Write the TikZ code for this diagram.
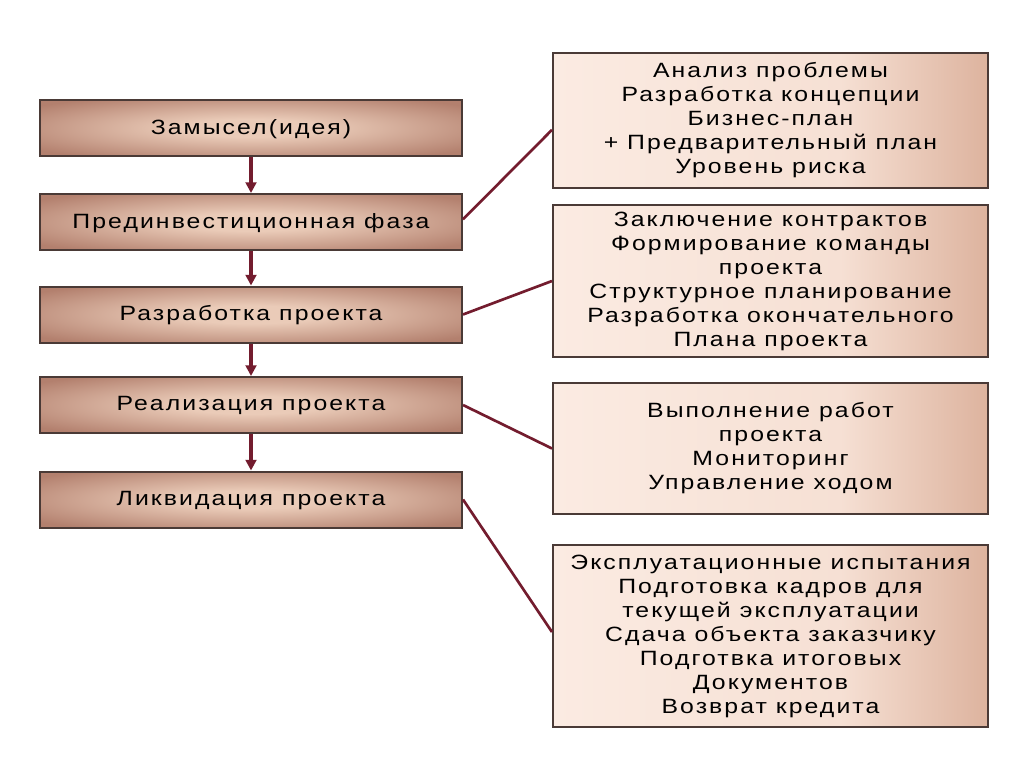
\documentclass[tikz,border=0pt]{standalone}
\usepackage{fontspec}
\setmainfont{Liberation Sans}
\newfontfamily\diagfont[FakeStretch=1.2,LetterSpace=10]{Liberation Sans}
\usetikzlibrary{arrows.meta}
\definecolor{lineRed}{HTML}{731C2E}
\definecolor{boxEdge}{HTML}{4A3A36}
\definecolor{lbin}{HTML}{EACBB8}
\definecolor{lbout}{HTML}{B3806E}
\definecolor{rbA}{HTML}{FBEBE2}
\definecolor{rbB}{HTML}{F6E0D4}
\definecolor{rbC}{HTML}{DDB39E}
\pgfdeclareradialshading{leftshade}{\pgfpoint{0bp}{0bp}}{color(0bp)=(lbin); color(8bp)=(lbin); color(32bp)=(lbout); color(50bp)=(lbout)}
\pgfdeclarehorizontalshading{rightshade}{100bp}{color(0bp)=(rbA); color(25bp)=(rbA); color(58bp)=(rbB); color(75bp)=(rbC); color(100bp)=(rbC)}
\tikzset{
  stage/.style={draw=boxEdge, line width=1.5pt, shading=leftshade, minimum width=316.5pt, minimum height=42pt, inner sep=0pt, text depth=2pt, font=\diagfont\fontsize{15.5}{18}\selectfont},
  detail/.style={draw=boxEdge, line width=1.5pt, shading=rightshade, minimum width=326.25pt, inner sep=0pt, align=center, font=\diagfont\fontsize{15.5}{18}\selectfont},
  flow/.style={draw=lineRed, line width=2.4pt, -{Triangle[length=8pt,width=8pt]}},
  link/.style={draw=lineRed, line width=2pt}
}
\begin{document}
\begin{tikzpicture}[x=0.75pt,y=-0.75pt]
\useasboundingbox (0,0) rectangle (1024,767);
\fill[white] (0,0) rectangle (1024,767);
% left stages
\node[stage] (s1) at (251,128) {Замысел(идея)};
\node[stage] (s2) at (251,222) {Прединвестиционная фаза};
\node[stage] (s3) at (251,314.5) {Разработка проекта};
\node[stage] (s4) at (251,405) {Реализация проекта};
\node[stage] (s5) at (251,499.5) {Ликвидация проекта};
% right details
\node[detail, minimum height=101.25pt] (dA) at (770.5,120.5) {Анализ проблемы\\Разработка концепции\\Бизнес-план\\+ Предварительный план\\Уровень риска};
\node[detail, minimum height=114pt] (dB) at (770.5,281) {Заключение контрактов\\Формирование команды\\проекта\\Структурное планирование\\Разработка окончательного\\Плана проекта};
\node[detail, minimum height=98.25pt] (dC) at (770.5,448.5) {Выполнение работ\\проекта\\Мониторинг\\Управление ходом};
\node[detail, minimum height=136.5pt] (dD) at (770.5,636) {Эксплуатационные испытания\\Подготовка кадров для\\текущей эксплуатации\\Сдача объекта заказчику\\Подготвка итоговых\\Документов\\Возврат кредита};
% flow arrows
\draw[flow] (s1.south) -- (s2.north);
\draw[flow] (s2.south) -- (s3.north);
\draw[flow] (s3.south) -- (s4.north);
\draw[flow] (s4.south) -- (s5.north);
% links
\draw[link] ([yshift=2pt]s2.east) -- ([yshift=-7pt]dA.west);
\draw[link] (s3.east) -- (dB.west);
\draw[link] (s4.east) -- (dC.west);
\draw[link] (s5.east) -- ([yshift=3pt]dD.west);
\end{tikzpicture}
\end{document}
